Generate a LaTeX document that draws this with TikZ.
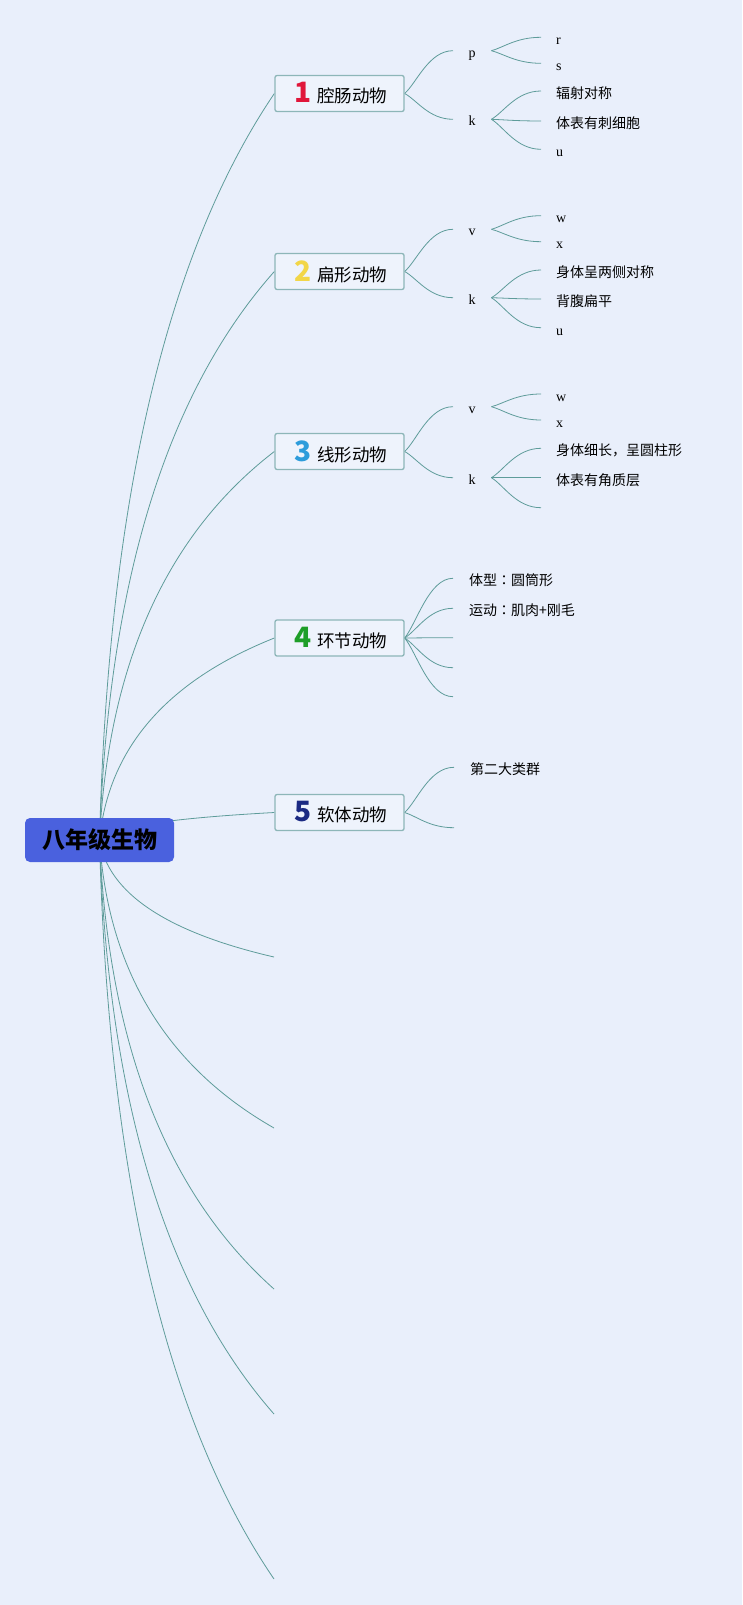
\documentclass[tikz,border=0pt]{standalone}
\usepackage{fontspec}
\setmainfont{Liberation Serif}
\newfontfamily\cjk{Noto Sans CJK SC}
\newfontfamily\cjkjp{Noto Sans CJK JP}
\usetikzlibrary{calc}
\definecolor{bgc}{HTML}{E9EFFB}
\definecolor{linkc}{HTML}{5E9C9A}
\definecolor{tborder}{HTML}{8DB6B8}
\definecolor{tfill}{HTML}{EEF3FC}
\definecolor{rootfill}{HTML}{4A61DE}
\definecolor{nA}{HTML}{E0163A}
\definecolor{nB}{HTML}{F2D648}
\definecolor{nC}{HTML}{2D9CDB}
\definecolor{nD}{HTML}{1E9E28}
\definecolor{nE}{HTML}{1B2A83}
\pgfdeclarelayer{back}
\pgfdeclarelayer{lines}
\pgfsetlayers{back,lines,main}
\newcommand\tnum[2]{\makebox[22pt]{\bfseries\fontsize{28pt}{28pt}\selectfont\color{#1}#2}\hspace{3pt}}
\newcommand\mline[1]{\draw[lk] let \p1=(root.center), \p2=(#1) in (\p1) .. controls ({\x1+0.05*(\x2-\x1)},{\y1+0.4533*(\y2-\y1)}) and ({\x1+0.3833*(\x2-\x1)},{\y1+0.7867*(\y2-\y1)}) .. (\p2);}
\newcommand\sline[2]{\draw[lk] let \p1=(#1), \p2=(#2) in (\p1) .. controls ({\x1+0.25*(\x2-\x1)},{\y1+0.25*(\y2-\y1)}) and ({0.5*(\x1+\x2)},\y2) .. (\p2);}
\newcommand\jcolon{{\cjkjp ：}}
\tikzset{
  lk/.style={draw=linkc, line width=0.8pt},
  rootbox/.style={fill=rootfill, rounded corners=5pt, minimum width=149pt, minimum height=44pt, inner sep=0pt, font=\cjk\bfseries\fontsize{23pt}{26pt}\selectfont},
  topic/.style={draw=tborder, fill=tfill, line width=1.3pt, rounded corners=2pt, minimum width=129pt, minimum height=36pt, inner sep=0pt, font=\cjk\fontsize{17.5pt}{20pt}\selectfont},
  lvtwo/.style={anchor=west, minimum width=38pt, inner sep=0pt, text height=13pt, text depth=0pt, font=\fontsize{14pt}{16pt}\selectfont},
  leaf/.style={anchor=west, inner xsep=15pt, inner ysep=0pt, text height=14.6pt, text depth=0pt, font=\fontsize{14pt}{16pt}\selectfont},
  cleaf/.style={leaf, font=\cjk\fontsize{14pt}{16pt}\selectfont},
  tleaf/.style={cleaf, inner xsep=16pt},
}
\begin{document}
\begin{tikzpicture}[x=1pt,y=-1pt]
\begin{pgfonlayer}{back}
\fill[bgc] (0,0) rectangle (742,1605);
\end{pgfonlayer}
\useasboundingbox (0,0) rectangle (742,1605);

% root
\node[rootbox] (root) at (99.5,840) {八年级生物};

% main topics
\node[topic] (t1) at (339.5,93.5) {\tnum{nA}{1}腔肠动物};
\node[topic] (t2) at (339.5,271.5) {\tnum{nB}{2}扁形动物};
\node[topic] (t3) at (339.5,451.5) {\tnum{nC}{3}线形动物};
\node[topic] (t4) at (339.5,638) {\tnum{nD}{4}环节动物};
\node[topic] (t5) at (339.5,812.5) {\tnum{nE}{5}软体动物};
\coordinate (e6) at (274,957);
\coordinate (e7) at (274,1128);
\coordinate (e8) at (274,1289);
\coordinate (e9) at (274,1414);
\coordinate (e10) at (274,1579);

% topic 1
\node[lvtwo] (p1) at (453,50.7) {p};
\node[lvtwo] (k1) at (453,119.3) {k};
\node[leaf] (r1) at (541,37.3) {r};
\node[leaf] (s1) at (541,63.3) {s};
\node[cleaf] (a1) at (541,91) {辐射对称};
\node[cleaf] (b1) at (541,121) {体表有刺细胞};
\node[leaf] (u1) at (541,149.3) {u};

% topic 2
\node[lvtwo] (v2) at (453,229.3) {v};
\node[lvtwo] (k2) at (453,297.7) {k};
\node[leaf] (w2) at (541,215.7) {w};
\node[leaf] (x2) at (541,241.7) {x};
\node[cleaf] (a2) at (541,270) {身体呈两侧对称};
\node[cleaf] (b2) at (541,299) {背腹扁平};
\node[leaf] (u2) at (541,327.7) {u};

% topic 3
\node[lvtwo] (v3) at (453,406.7) {v};
\node[lvtwo] (k3) at (453,477.7) {k};
\node[leaf] (w3) at (541,394) {w};
\node[leaf] (x3) at (541,420) {x};
\node[cleaf] (a3) at (541,448.3) {身体细长，呈圆柱形};
\node[cleaf] (b3) at (541,477.7) {体表有角质层};
\coordinate (c3) at (541,507.7);

% topic 4
\node[tleaf] (a4) at (453,578.3) {体型\jcolon 圆筒形};
\node[tleaf] (b4) at (453,608.3) {运动\jcolon 肌肉+刚毛};
\coordinate (c4) at (453,637.7);
\coordinate (d4) at (453,667.7);
\coordinate (f4) at (453,696.7);

% topic 5
\node[tleaf] (a5) at (454,767.3) {第二大类群};
\coordinate (b5) at (454,827.7);

\begin{pgfonlayer}{lines}
\mline{t1.west}
\mline{t2.west}
\mline{t3.west}
\mline{t4.west}
\mline{t5.west}
\mline{e6}
\mline{e7}
\mline{e8}
\mline{e9}
\mline{e10}
\sline{t1.east}{p1.west}
\sline{t1.east}{k1.west}
\sline{p1.east}{r1.west}
\sline{p1.east}{s1.west}
\sline{k1.east}{a1.west}
\sline{k1.east}{b1.west}
\sline{k1.east}{u1.west}
\sline{t2.east}{v2.west}
\sline{t2.east}{k2.west}
\sline{v2.east}{w2.west}
\sline{v2.east}{x2.west}
\sline{k2.east}{a2.west}
\sline{k2.east}{b2.west}
\sline{k2.east}{u2.west}
\sline{t3.east}{v3.west}
\sline{t3.east}{k3.west}
\sline{v3.east}{w3.west}
\sline{v3.east}{x3.west}
\sline{k3.east}{a3.west}
\sline{k3.east}{b3.west}
\sline{k3.east}{c3}
\sline{t4.east}{a4.west}
\sline{t4.east}{b4.west}
\sline{t4.east}{c4}
\sline{t4.east}{d4}
\sline{t4.east}{f4}
\sline{t5.east}{a5.west}
\sline{t5.east}{b5}
\end{pgfonlayer}
\end{tikzpicture}
\end{document}
